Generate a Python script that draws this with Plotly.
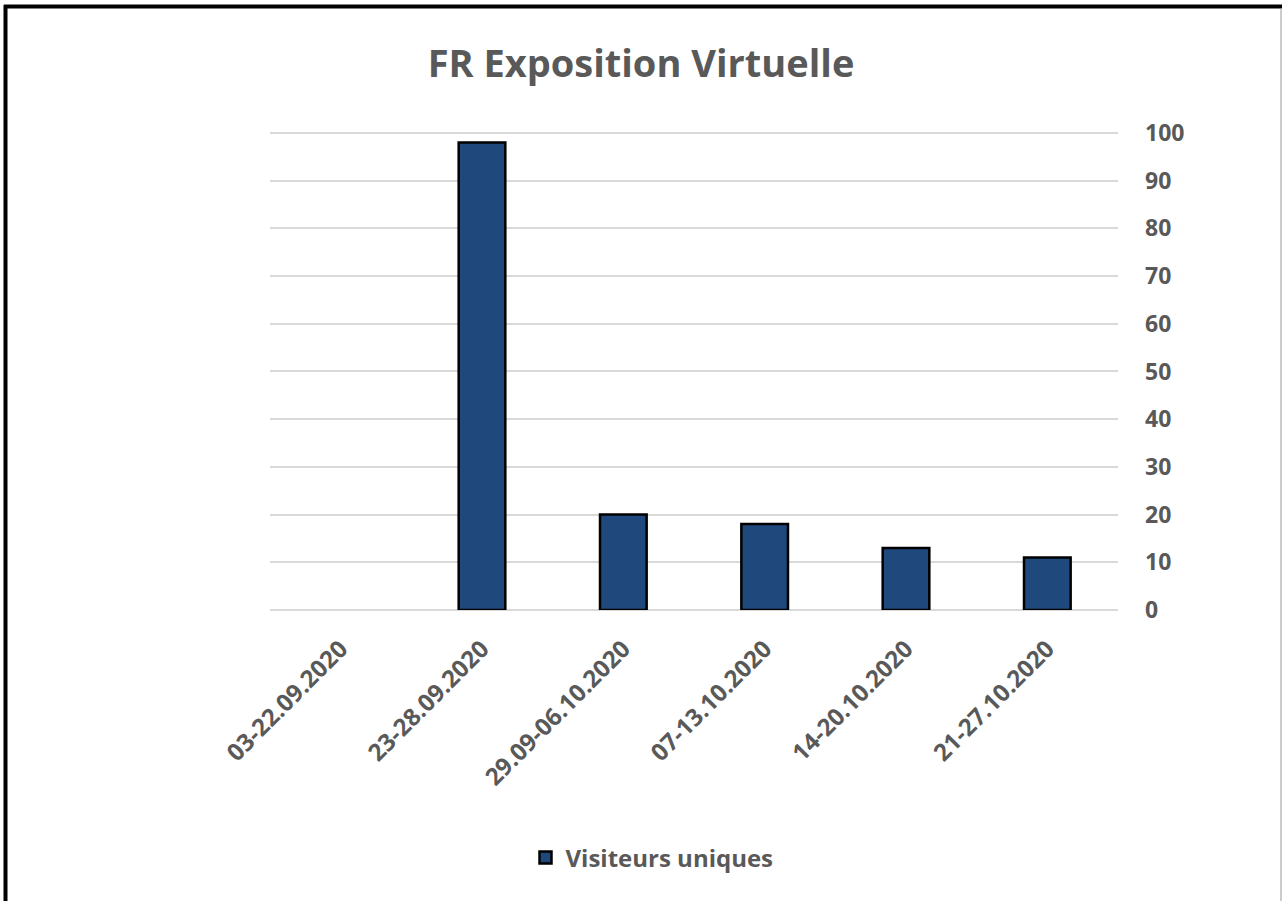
import plotly.graph_objects as go

# Weekly periods and unique visitor counts
periods = ["03-22.09.2020", "23-28.09.2020", "29.09-06.10.2020",
           "07-13.10.2020", "14-20.10.2020", "21-27.10.2020"]
visiteurs = [None, 98, 20, 18, 13, 11]
y_ticks = [0, 10, 20, 30, 40, 50, 60, 70, 80, 90, 100]

GREY = "#595959"
BAR_BLUE = "#1F497D"

W, H = 1282, 901
L, R, T, B = 270, 164, 131, 291
PW, PH = W - L - R, H - T - B


def px_x(x):
    return (x - L) / PW


def px_y(y):
    return (H - B - y) / PH


fig = go.Figure(
    go.Bar(
        x=periods,
        y=visiteurs,
        name="Visiteurs uniques",
        marker=dict(color=BAR_BLUE, line=dict(color="#000000", width=2.5)),
        showlegend=True,
    )
)

fig.update_layout(
    width=W,
    height=H,
    margin=dict(l=L, r=R, t=T, b=B),
    plot_bgcolor="#ffffff",
    paper_bgcolor="#ffffff",
    font=dict(family="Open Sans", color=GREY),
    title=dict(
        text="<b>FR Exposition Virtuelle</b>",
        font=dict(size=38, color=GREY),
        x=0.5, xref="container", xanchor="center",
        y=1 - 64 / H, yref="container", yanchor="middle",
    ),
    bargap=0.67,
    legend=dict(
        orientation="h",
        x=px_x(652), xanchor="center",
        y=px_y(858), yanchor="middle",
        font=dict(size=24, color=GREY, weight="bold"),
    ),
    showlegend=True,
)

fig.update_xaxes(
    tickangle=-45,
    tickfont=dict(size=24, color=GREY, weight="bold"),
    showgrid=False,
    showline=False,
    ticks="",
    ticklabelstandoff=19,
)

fig.update_yaxes(
    side="right",
    range=[0, 100.4],
    tickvals=y_ticks,
    tickfont=dict(size=23, color=GREY, weight="bold"),
    showgrid=True,
    gridcolor="#d9d9d9",
    gridwidth=2,
    zeroline=True,
    zerolinecolor="#d9d9d9",
    zerolinewidth=2,
    showline=False,
    ticks="",
    ticklabelstandoff=26,
)

# Outer frame like the screenshot (thick black top/left, thin grey right)
fig.add_shape(type="line", xref="paper", yref="paper",
              x0=px_x(4), x1=px_x(W), y0=px_y(6.5), y1=px_y(6.5),
              line=dict(color="#000000", width=4))
fig.add_shape(type="line", xref="paper", yref="paper",
              x0=px_x(5.5), x1=px_x(5.5), y0=px_y(5), y1=px_y(H + 5),
              line=dict(color="#000000", width=4))
fig.add_shape(type="line", xref="paper", yref="paper",
              x0=px_x(1281), x1=px_x(1281), y0=px_y(8), y1=px_y(H + 5),
              line=dict(color="#999999", width=1))

fig.write_html("out.html", config={"displayModeBar": False},
               post_script="document.body.style.margin='0';")
